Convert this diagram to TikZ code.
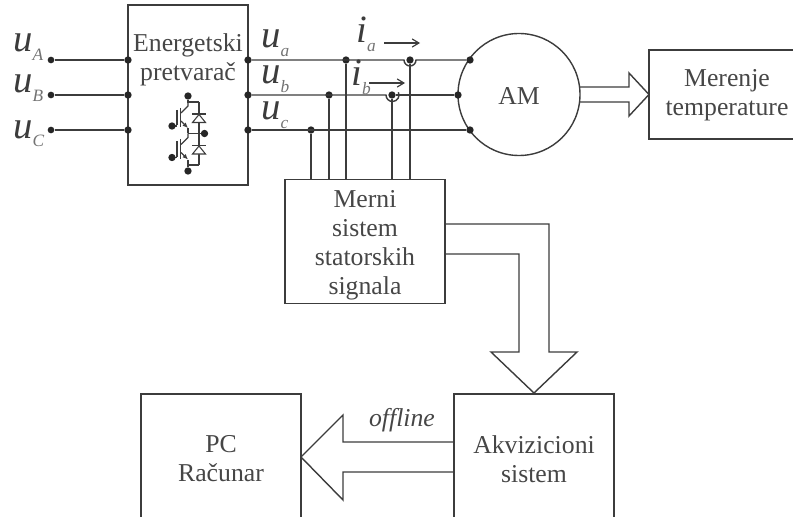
\documentclass[tikz,border=0pt]{standalone}
\usepackage{fontspec}
\setmainfont{Liberation Serif}
\usetikzlibrary{
  arrows.meta,
  calc
}
\definecolor{linija}{RGB}{60,60,60}
\definecolor{tekst}{RGB}{70,70,70}
\definecolor{indeks}{RGB}{115,115,115}
\tikzset{
  % Osnovne linije
  vod/.style      = {line width=1.05pt, draw=linija},
  tanak/.style    = {line width=0.8pt, draw=linija},
  blok/.style     = {rectangle, line width=1.05pt, draw=linija, inner sep=0pt},
  % Tekst
  txt/.style      = {font=\fontsize{19.3}{21.75}\selectfont, text=tekst, align=center, inner sep=0pt},
  fazalab/.style  = {text=linija, inner sep=0pt, anchor=base west},
  % Tacke
  tacka/.style    = {circle, fill=black!85, inner sep=0pt, minimum size=5.5pt},
  tackam/.style   = {circle, fill=black!85, inner sep=0pt, minimum size=5pt},
  strelica/.style = {-{Straight Barb[length=5pt,width=6pt]}, line width=0.9pt, draw=linija},
}
\newcommand{\faza}[2]{{\fontsize{29}{29}\selectfont\itshape #1}\raisebox{-6.4pt}{\color{indeks}\fontsize{13}{13}\selectfont\itshape #2}}
\begin{document}
\begin{tikzpicture}[x=0.75pt,y=-0.75pt]
  \useasboundingbox (0,0) rectangle (793,517);
  % Blokovi
  \node[blok, minimum width=90pt, minimum height=135pt] (pretvarac) at (188,95) {};
  \node[txt] (pretvaracT) at (188,60) {Energetski\\pretvarač};
  \node[blok, circle, minimum size=91.5pt] (am) at (519,94.5) {};
  \node[txt] at (519,96) {AM};
  \coordinate (meA) at (793,50);
  \coordinate (meB) at (649,50);
  \coordinate (meC) at (649,139);
  \coordinate (meD) at (793,139);
  \draw[vod] (meA) -- (meB) -- (meC) -- (meD);
  \node[txt] (merenje) at (727,95) {Merenje\\temperature};
  \node[blok, minimum width=120pt, minimum height=93pt] (merni) at (365,241.5) {};
  \node[txt] at (365,245) {Merni\\sistem\\statorskih\\signala};
  \coordinate (pcA) at (141,517);
  \coordinate (pcB) at (141,394);
  \coordinate (pcC) at (301,394);
  \coordinate (pcD) at (301,517);
  \draw[vod] (pcA) -- (pcB) -- (pcC) -- (pcD);
  \node[txt] (pc) at (221,459) {PC\\Računar};
  \coordinate (akA) at (454,517);
  \coordinate (akB) at (454,394);
  \coordinate (akC) at (614,394);
  \coordinate (akD) at (614,517);
  \draw[vod] (akA) -- (akB) -- (akC) -- (akD);
  \node[txt] (ak) at (534,459) {Akvizicioni\\sistem};
  % Ulazi
  \foreach \ime/\y/\b in {A/60/52, B/95/93, C/130/138} {
    \node[tackam] (ul\ime) at (51,\y) {};
    \node[tacka] (ulp\ime) at (128,\y) {};
    \draw[vod] (ul\ime) -- (ulp\ime);
    \node[fazalab] at (13,\b) {\faza{u}{\ime}};
  }
  % Izlazi
  \node[tacka] (izA) at (248,60) {};
  \node[tacka] (izB) at (248,95) {};
  \node[tacka] (izC) at (248,130) {};
  \node[tacka] (amA) at (470,60) {};
  \node[tacka] (amB) at (458,95) {};
  \node[tacka] (amC) at (470,130) {};
  \node[fazalab] at (261,48) {\faza{u}{a}};
  \node[fazalab] at (261,84) {\faza{u}{b}};
  \node[fazalab] at (261,120) {\faza{u}{c}};
  % Merenje napona
  \node[tacka] (ta) at (346,60) {};
  \node[tacka] (tb) at (329,95) {};
  \node[tacka] (tc) at (311,130) {};
  \draw[vod] (ta) -- (346,179);
  \draw[vod] (tb) -- (329,179);
  \draw[vod] (tc) -- (311,179);
  % Merenje struje
  \node[tacka] (sa) at (410,60) {};
  \node[tacka] (sb) at (392,95) {};
  \draw[vod] (sa) -- (410,179);
  \draw[vod] (sb) -- (392,179);
  \draw[vod] (izA) -- (404,60) arc[start angle=180,end angle=0,radius=6] -- (amA);
  \draw[vod] (izB) -- (386,95) arc[start angle=180,end angle=-25,radius=6.5];
  \draw[vod] (396,95) -- (amB);
  \draw[vod] (izC) -- (amC);
  \draw[strelica] (384,43) -- (420,43);
  \draw[strelica] (369,83) -- (405,83);
  \node[fazalab] at (356,43) {\faza{i}{a}};
  \node[fazalab] at (351,86) {\faza{i}{b}};
  % Siroke strelice
  \draw[vod] (580,87) -- (629,87) -- (629,73) -- (649,94.5) -- (629,116) -- (629,102) -- (580,102);
  \draw[vod] (445,224) -- (549,224) -- (549,352) -- (577,352) -- (534,393) -- (491,352) -- (519,352) -- (519,254) -- (445,254);
  \draw[vod] (454,442) -- (343,442) -- (343,415) -- (301,457) -- (343,500) -- (343,472) -- (454,472);
  \node[txt, font=\fontsize{19.3}{21.75}\selectfont\itshape] (offline) at (402,420) {offline};
  % Tranzistori
  \foreach \yo in {0, 31.5} {
    \begin{scope}[shift={(0,\yo)}]
      \draw[tanak] (177,110) -- (177,125);
      \draw[tanak] (180.5,108) -- (180.5,127);
      \draw[tanak] (172,126) -- (177,126);
      \draw[tanak] (181,113) -- (188,106) -- (188,102);
      \draw[tanak, -{Latex[length=4pt,width=3.5pt]}] (181,121) -- (188,128);
      \draw[tanak] (188,128) -- (188,133);
      \draw[tanak] (192,114) -- (206,114);
      \draw[tanak] (199,102) -- (199,133);
      \draw[tanak, fill=white] (192.5,122.5) -- (205.5,122.5) -- (199,114.5) -- cycle;
    \end{scope}
  }
  \node[tacka] (tK) at (188,96) {};
  \node[tacka] (tE) at (188,171) {};
  \node[tacka] (tM) at (204.5,133.5) {};
  \node[tacka] (tG) at (172,126) {};
  \node[tacka] (tH) at (172,157.5) {};
  \draw[tanak] (tK) -- (188,102) -- (199,102);
  \draw[tanak] (tE) -- (188,165) -- (199,165);
  \draw[tanak] (188,133.5) -- (tM);
\end{tikzpicture}
\end{document}
